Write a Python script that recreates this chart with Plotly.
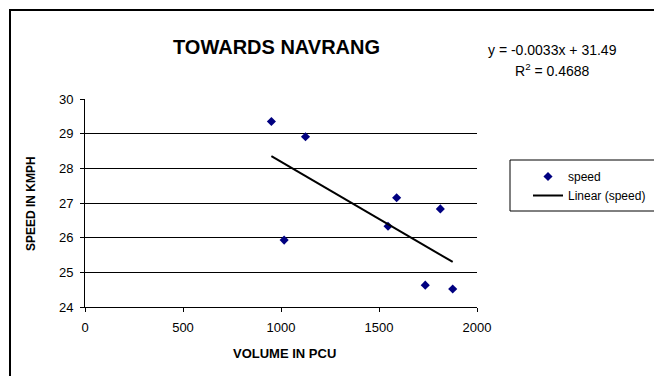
import plotly.graph_objects as go

# Observed traffic: volume (PCU) vs speed (km/h)
volume_pcu = [951, 1125, 1016, 1590, 1546, 1813, 1736, 1876]
speed_kmph = [29.35, 28.91, 25.93, 27.15, 26.33, 26.83, 24.63, 24.52]

# Linear trendline coefficients
slope = -0.0033
intercept = 31.49
r_squared = 0.4688

x_ticks = [0, 500, 1000, 1500, 2000]
y_ticks = [24, 25, 26, 27, 28, 29, 30]

FONT = "Arial, Liberation Sans, sans-serif"

W, H = 654, 376
L, R, T, B = 85, 177, 99, 69
PW, PH = W - L - R, H - T - B


def px_x(p):
    return (p - L) / PW


def px_y(p):
    return (H - B - p) / PH


trend_x = [min(volume_pcu), max(volume_pcu)]
trend_y = [slope * v + intercept for v in trend_x]

fig = go.Figure()
fig.add_trace(go.Scatter(
    x=volume_pcu, y=speed_kmph, mode="markers", name="speed",
    marker=dict(symbol="diamond", size=7, color="#000080",
                line=dict(width=0)),
))
fig.add_trace(go.Scatter(
    x=trend_x, y=trend_y, mode="lines", name="Linear (speed)",
    line=dict(color="black", width=2),
))

fig.update_layout(
    width=W, height=H,
    margin=dict(l=L, r=R, t=T, b=B, autoexpand=False),
    paper_bgcolor="white", plot_bgcolor="white",
    font=dict(family=FONT, size=13, color="black"),
    showlegend=True,
    legend=dict(
        x=px_x(528), y=px_y(162), xanchor="left", yanchor="top",
        bgcolor="rgba(0,0,0,0)", borderwidth=0,
        font=dict(family=FONT, size=12, color="black"),
        tracegroupgap=0, itemwidth=30,
    ),
    xaxis=dict(
        range=[0, 2000], tickvals=x_ticks, showgrid=False, zeroline=False,
        showline=True, linecolor="black", linewidth=1,
        ticks="outside", ticklen=4, tickcolor="black",
        tickfont=dict(size=13), ticklabelstandoff=4,
    ),
    yaxis=dict(
        range=[24, 30], tickvals=y_ticks, showgrid=True, gridcolor="black",
        gridwidth=1, zeroline=False,
        showline=True, linecolor="black", linewidth=1,
        ticks="outside", ticklen=4, tickcolor="black",
        tickfont=dict(size=13), ticklabelstandoff=4,
    ),
    shapes=[
        # outer chart frame
        dict(type="rect", xref="paper", yref="paper",
             x0=px_x(10), x1=px_x(670), y0=px_y(390), y1=px_y(10),
             line=dict(color="black", width=2), fillcolor="rgba(0,0,0,0)"),
        # legend box
        dict(type="rect", xref="paper", yref="paper",
             x0=px_x(510), x1=px_x(670), y0=px_y(211), y1=px_y(160),
             line=dict(color="black", width=1), fillcolor="rgba(0,0,0,0)"),
    ],
    annotations=[
        dict(text="<b>TOWARDS NAVRANG</b>", xref="paper", yref="paper",
             x=px_x(276), y=px_y(47), xanchor="center", yanchor="middle",
             showarrow=False, font=dict(size=20)),
        dict(text="<b>VOLUME IN PCU</b>", xref="paper", yref="paper",
             x=px_x(284), y=px_y(353), xanchor="center", yanchor="middle",
             showarrow=False, font=dict(size=13)),
        dict(text="<b>SPEED IN KMPH</b>", xref="paper", yref="paper",
             x=px_x(31), y=px_y(204), xanchor="center", yanchor="middle",
             textangle=-90, showarrow=False, font=dict(size=12)),
        dict(text=f"y = {slope}x + {intercept}", xref="paper", yref="paper",
             x=px_x(552), y=px_y(50), xanchor="center", yanchor="middle",
             showarrow=False, font=dict(size=14)),
        dict(text=f"R<sup>2</sup> = {r_squared}", xref="paper", yref="paper",
             x=px_x(552), y=px_y(70), xanchor="center", yanchor="middle",
             showarrow=False, font=dict(size=14)),
    ],
)

fig.write_html("out.html")
